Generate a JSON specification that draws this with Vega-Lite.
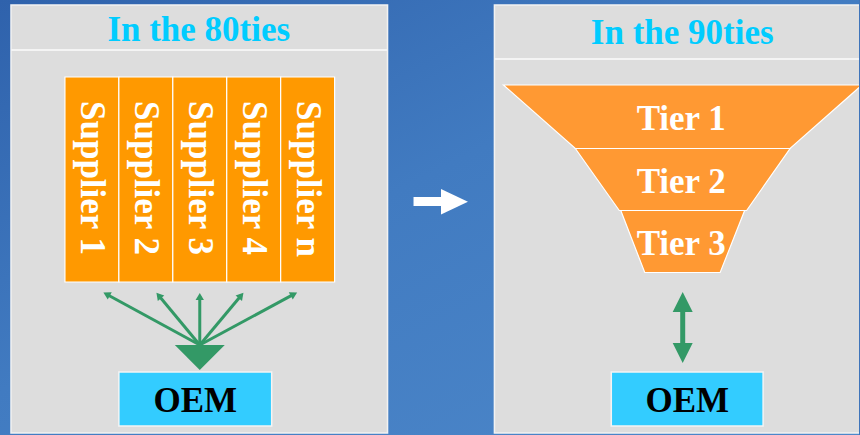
{
  "$schema": "https://vega.github.io/schema/vega-lite/v6.json",
  "width": 860,
  "height": 435,
  "padding": 0,
  "autosize": {"type": "fit", "contains": "padding"},
  "background": "#3E74BA",
  "config": {"view": {"stroke": null}},
  "datasets": {
    "bg": [{"x1": 0, "x2": 860, "y1": 0, "y2": 435}],
    "panels": [
      {"x1": 11, "x2": 388, "y1": 5, "y2": 433},
      {"x1": 495, "x2": 862, "y1": 5, "y2": 433}
    ],
    "separators": [
      {"x1": 11, "x2": 388, "y": 50},
      {"x1": 495, "x2": 860, "y": 59}
    ],
    "titles": [
      {"x": 199, "y": 40.5, "label": "In the 80ties"},
      {"x": 683, "y": 44, "label": "In the 90ties"}
    ],
    "suppliers": [
      {"x1": 65, "x2": 119, "y1": 77, "y2": 282, "cx": 92, "label": "Supplier 1"},
      {"x1": 119, "x2": 173, "y1": 77, "y2": 282, "cx": 146, "label": "Supplier 2"},
      {"x1": 173, "x2": 227, "y1": 77, "y2": 282, "cx": 200, "label": "Supplier 3"},
      {"x1": 227, "x2": 281, "y1": 77, "y2": 282, "cx": 254, "label": "Supplier 4"},
      {"x1": 281, "x2": 335, "y1": 77, "y2": 282, "cx": 308, "label": "Supplier n"}
    ],
    "arrows": [
      {"x1": 200, "y1": 345, "x2": 106.7, "y2": 294.2, "a": 298.6},
      {"x1": 200, "y1": 345, "x2": 158.9, "y2": 295.5, "a": 320.3},
      {"x1": 200, "y1": 345, "x2": 200, "y2": 296.5, "a": 0},
      {"x1": 200, "y1": 345, "x2": 241.4, "y2": 295.5, "a": 39.9},
      {"x1": 200, "y1": 345, "x2": 294.3, "y2": 294.1, "a": 61.7}
    ],
    "greenTri": [
      {"id": "big", "y": 345, "xl": 175, "xr": 225},
      {"id": "big", "y": 370, "xl": 200, "xr": 200},
      {"id": "up", "y": 292, "xl": 683.5, "xr": 683.5},
      {"id": "up", "y": 312, "xl": 673.5, "xr": 693.5},
      {"id": "down", "y": 343, "xl": 673.5, "xr": 693.5},
      {"id": "down", "y": 363, "xl": 683.5, "xr": 683.5}
    ],
    "shaft": [{"x1": 681, "x2": 686, "y1": 310, "y2": 345}],
    "oem": [
      {"x1": 119, "x2": 272, "y1": 372, "y2": 426, "cx": 195.5, "ty": 411.5, "label": "OEM"},
      {"x1": 612, "x2": 764, "y1": 372, "y2": 426, "cx": 688, "ty": 411.5, "label": "OEM"}
    ],
    "funnel": [
      {"id": "t1", "y": 85, "xl": 504, "xr": 863},
      {"id": "t1", "y": 148.5, "xl": 576, "xr": 791},
      {"id": "t2", "y": 148.5, "xl": 576, "xr": 791},
      {"id": "t2", "y": 210.5, "xl": 620, "xr": 747.5},
      {"id": "t3", "y": 210.5, "xl": 621.5, "xr": 745.5},
      {"id": "t3", "y": 272.5, "xl": 645.5, "xr": 721}
    ],
    "tiers": [
      {"x": 682, "y": 130, "label": "Tier 1"},
      {"x": 682, "y": 192.5, "label": "Tier 2"},
      {"x": 682, "y": 255, "label": "Tier 3"}
    ],
    "whiteShaft": [{"x1": 414, "x2": 442, "y1": 197, "y2": 206}],
    "whiteHead": [
      {"x": 441.5, "y1": 189, "y2": 214.5},
      {"x": 468.5, "y1": 201.7, "y2": 201.7}
    ]
  },
  "layer": [
    {
      "data": {"name": "bg"},
      "mark": {"type": "rect", "fill": {"gradient": "linear", "x1": 0, "y1": 0, "x2": 1, "y2": 1, "stops": [{"offset": 0, "color": "#2F62AC"}, {"offset": 0.45, "color": "#417BC1"}, {"offset": 1, "color": "#4D88CA"}]}},
      "encoding": {
        "x": {"field": "x1", "type": "quantitative", "scale": {"domain": [0, 860], "nice": false, "zero": false}, "axis": null},
        "x2": {"field": "x2"},
        "y": {"field": "y1", "type": "quantitative", "scale": {"domain": [0, 435], "nice": false, "zero": false, "reverse": true}, "axis": null},
        "y2": {"field": "y2"}
      }
    },
    {
      "data": {"name": "panels"},
      "mark": {"type": "rect", "fill": "#DDDDDD", "stroke": "#F2F2F2", "strokeWidth": 1.5, "clip": true},
      "encoding": {
        "x": {"field": "x1", "type": "quantitative", "scale": {"domain": [0, 860], "nice": false, "zero": false}, "axis": null},
        "x2": {"field": "x2"},
        "y": {"field": "y1", "type": "quantitative", "scale": {"domain": [0, 435], "nice": false, "zero": false, "reverse": true}, "axis": null},
        "y2": {"field": "y2"}
      }
    },
    {
      "data": {"name": "separators"},
      "mark": {"type": "rule", "stroke": "#F4F4F4", "strokeWidth": 2},
      "encoding": {
        "x": {"field": "x1", "type": "quantitative", "scale": {"domain": [0, 860], "nice": false, "zero": false}, "axis": null},
        "x2": {"field": "x2"},
        "y": {"field": "y", "type": "quantitative", "scale": {"domain": [0, 435], "nice": false, "zero": false, "reverse": true}, "axis": null}
      }
    },
    {
      "data": {"name": "titles"},
      "mark": {"type": "text", "font": "Liberation Serif", "fontWeight": "bold", "fontSize": 35, "color": "#00CCFF", "align": "center", "baseline": "alphabetic"},
      "encoding": {
        "x": {"field": "x", "type": "quantitative", "scale": {"domain": [0, 860], "nice": false, "zero": false}, "axis": null},
        "y": {"field": "y", "type": "quantitative", "scale": {"domain": [0, 435], "nice": false, "zero": false, "reverse": true}, "axis": null},
        "text": {"field": "label"}
      }
    },
    {
      "data": {"name": "suppliers"},
      "mark": {"type": "rect", "fill": "#FF9900", "stroke": "#FFFFFF", "strokeWidth": 1.2},
      "encoding": {
        "x": {"field": "x1", "type": "quantitative", "scale": {"domain": [0, 860], "nice": false, "zero": false}, "axis": null},
        "x2": {"field": "x2"},
        "y": {"field": "y1", "type": "quantitative", "scale": {"domain": [0, 435], "nice": false, "zero": false, "reverse": true}, "axis": null},
        "y2": {"field": "y2"}
      }
    },
    {
      "data": {"name": "suppliers"},
      "mark": {"type": "text", "font": "Liberation Serif", "fontWeight": "bold", "fontSize": 35, "color": "#FFFFFF", "angle": 90, "align": "left", "baseline": "middle"},
      "encoding": {
        "x": {"field": "cx", "type": "quantitative", "scale": {"domain": [0, 860], "nice": false, "zero": false}, "axis": null},
        "y": {"value": 101},
        "text": {"field": "label"}
      }
    },
    {
      "data": {"name": "arrows"},
      "mark": {"type": "rule", "stroke": "#339966", "strokeWidth": 3},
      "encoding": {
        "x": {"field": "x1", "type": "quantitative", "scale": {"domain": [0, 860], "nice": false, "zero": false}, "axis": null},
        "x2": {"field": "x2"},
        "y": {"field": "y1", "type": "quantitative", "scale": {"domain": [0, 435], "nice": false, "zero": false, "reverse": true}, "axis": null},
        "y2": {"field": "y2"}
      }
    },
    {
      "data": {"name": "arrows"},
      "mark": {"type": "point", "shape": "triangle-up", "filled": true, "fill": "#339966", "opacity": 1, "size": 70, "strokeWidth": 0},
      "encoding": {
        "x": {"field": "x2", "type": "quantitative", "scale": {"domain": [0, 860], "nice": false, "zero": false}, "axis": null},
        "y": {"field": "y2", "type": "quantitative", "scale": {"domain": [0, 435], "nice": false, "zero": false, "reverse": true}, "axis": null},
        "angle": {"field": "a", "type": "quantitative", "scale": null}
      }
    },
    {
      "data": {"name": "greenTri"},
      "mark": {"type": "area", "orient": "horizontal", "fill": "#339966", "opacity": 1},
      "encoding": {
        "y": {"field": "y", "type": "quantitative", "scale": {"domain": [0, 435], "nice": false, "zero": false, "reverse": true}, "axis": null},
        "x": {"field": "xl", "type": "quantitative", "scale": {"domain": [0, 860], "nice": false, "zero": false}, "axis": null},
        "x2": {"field": "xr"},
        "detail": {"field": "id"}
      }
    },
    {
      "data": {"name": "shaft"},
      "mark": {"type": "rect", "fill": "#339966"},
      "encoding": {
        "x": {"field": "x1", "type": "quantitative", "scale": {"domain": [0, 860], "nice": false, "zero": false}, "axis": null},
        "x2": {"field": "x2"},
        "y": {"field": "y1", "type": "quantitative", "scale": {"domain": [0, 435], "nice": false, "zero": false, "reverse": true}, "axis": null},
        "y2": {"field": "y2"}
      }
    },
    {
      "data": {"name": "oem"},
      "mark": {"type": "rect", "fill": "#33CCFF", "stroke": "#F4F4F4", "strokeWidth": 1.5},
      "encoding": {
        "x": {"field": "x1", "type": "quantitative", "scale": {"domain": [0, 860], "nice": false, "zero": false}, "axis": null},
        "x2": {"field": "x2"},
        "y": {"field": "y1", "type": "quantitative", "scale": {"domain": [0, 435], "nice": false, "zero": false, "reverse": true}, "axis": null},
        "y2": {"field": "y2"}
      }
    },
    {
      "data": {"name": "oem"},
      "mark": {"type": "text", "font": "Liberation Serif", "fontWeight": "bold", "fontSize": 35, "color": "#000000", "align": "center", "baseline": "alphabetic"},
      "encoding": {
        "x": {"field": "cx", "type": "quantitative", "scale": {"domain": [0, 860], "nice": false, "zero": false}, "axis": null},
        "y": {"field": "ty", "type": "quantitative", "scale": {"domain": [0, 435], "nice": false, "zero": false, "reverse": true}, "axis": null},
        "text": {"field": "label"}
      }
    },
    {
      "data": {"name": "funnel"},
      "mark": {"type": "area", "orient": "horizontal", "fill": "#FF9933", "opacity": 1, "stroke": "#FFFFFF", "strokeWidth": 1.2, "clip": true},
      "encoding": {
        "y": {"field": "y", "type": "quantitative", "scale": {"domain": [0, 435], "nice": false, "zero": false, "reverse": true}, "axis": null},
        "x": {"field": "xl", "type": "quantitative", "scale": {"domain": [0, 860], "nice": false, "zero": false}, "axis": null},
        "x2": {"field": "xr"},
        "detail": {"field": "id"}
      }
    },
    {
      "data": {"name": "tiers"},
      "mark": {"type": "text", "font": "Liberation Serif", "fontWeight": "bold", "fontSize": 35, "color": "#FFFFFF", "align": "center", "baseline": "alphabetic"},
      "encoding": {
        "x": {"field": "x", "type": "quantitative", "scale": {"domain": [0, 860], "nice": false, "zero": false}, "axis": null},
        "y": {"field": "y", "type": "quantitative", "scale": {"domain": [0, 435], "nice": false, "zero": false, "reverse": true}, "axis": null},
        "text": {"field": "label"}
      }
    },
    {
      "data": {"name": "whiteShaft"},
      "mark": {"type": "rect", "fill": "#FFFFFF"},
      "encoding": {
        "x": {"field": "x1", "type": "quantitative", "scale": {"domain": [0, 860], "nice": false, "zero": false}, "axis": null},
        "x2": {"field": "x2"},
        "y": {"field": "y1", "type": "quantitative", "scale": {"domain": [0, 435], "nice": false, "zero": false, "reverse": true}, "axis": null},
        "y2": {"field": "y2"}
      }
    },
    {
      "data": {"name": "whiteHead"},
      "mark": {"type": "area", "orient": "vertical", "fill": "#FFFFFF", "opacity": 1},
      "encoding": {
        "x": {"field": "x", "type": "quantitative", "scale": {"domain": [0, 860], "nice": false, "zero": false}, "axis": null},
        "y": {"field": "y1", "type": "quantitative", "scale": {"domain": [0, 435], "nice": false, "zero": false, "reverse": true}, "axis": null},
        "y2": {"field": "y2"}
      }
    }
  ]
}
